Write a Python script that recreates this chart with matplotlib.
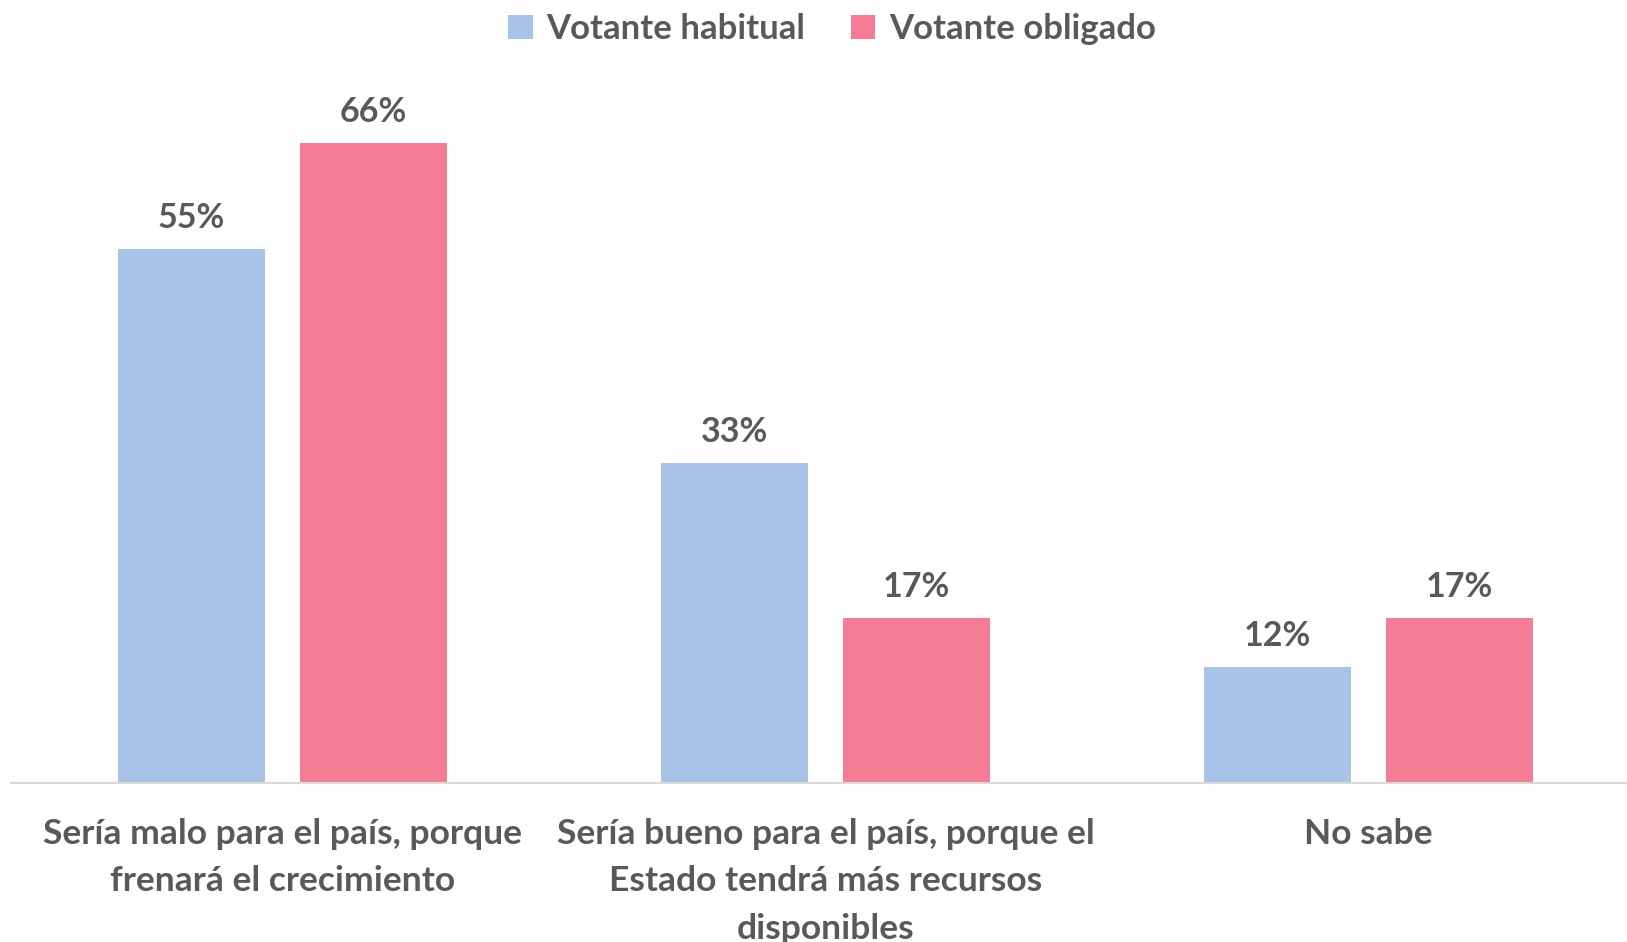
import matplotlib.pyplot as plt
import numpy as np

# data
categories = ["Sería malo para el país, porque\nfrenará el crecimiento",
              "Sería bueno para el país, porque el\nEstado tendrá más recursos\ndisponibles",
              "No sabe"]
habitual = [55, 33, 12]
obligado = [66, 17, 17]
series_names = ["Votante habitual", "Votante obligado"]

BLUE = "#A9C2E8"
PINK = "#F47C95"
TEXT = "#595959"

plt.rcParams['font.family'] = ['Lato', 'DejaVu Sans']

fig = plt.figure(figsize=(16.27, 9.42), dpi=100)
ax = fig.add_axes([11 / 1627, 1 - 783 / 942, 1629 / 1627, (783 - 70) / 942])

x = np.arange(len(categories))
w = 0.27
off = 0.168
b1 = ax.bar(x - off, habitual, w, color=BLUE, label=series_names[0])
b2 = ax.bar(x + off, obligado, w, color=PINK, label=series_names[1])

for bars in (b1, b2):
    for r in bars:
        ax.annotate(f"{int(r.get_height())}%", (r.get_x() + r.get_width() / 2, r.get_height()),
                    xytext=(0, 15), textcoords="offset pixels", ha="center", va="bottom",
                    fontsize=24.5, fontweight="bold", color=TEXT)

ax.set_xlim(-0.5, 2.5)
ax.set_ylim(0, 73.5)
ax.set_xticks(x)
ax.set_xticklabels(categories, fontsize=25.5, fontweight="bold", color=TEXT, linespacing=1.6)
ax.tick_params(axis="x", length=0, pad=25)
ax.set_yticks([])
for s in ("top", "right", "left"):
    ax.spines[s].set_visible(False)
ax.spines["bottom"].set_color("#D9D9D9")
ax.spines["bottom"].set_linewidth(1.5)

leg = fig.legend(loc="center", bbox_to_anchor=(832 / 1627, 1 - 29 / 942), ncol=2, frameon=False,
                 handlelength=0.7, handleheight=0.7, handletextpad=0.4, columnspacing=1.3,
                 prop={"size": 25, "weight": "bold"})
for t in leg.get_texts():
    t.set_color(TEXT)

fig.savefig("out.png", dpi=100)
